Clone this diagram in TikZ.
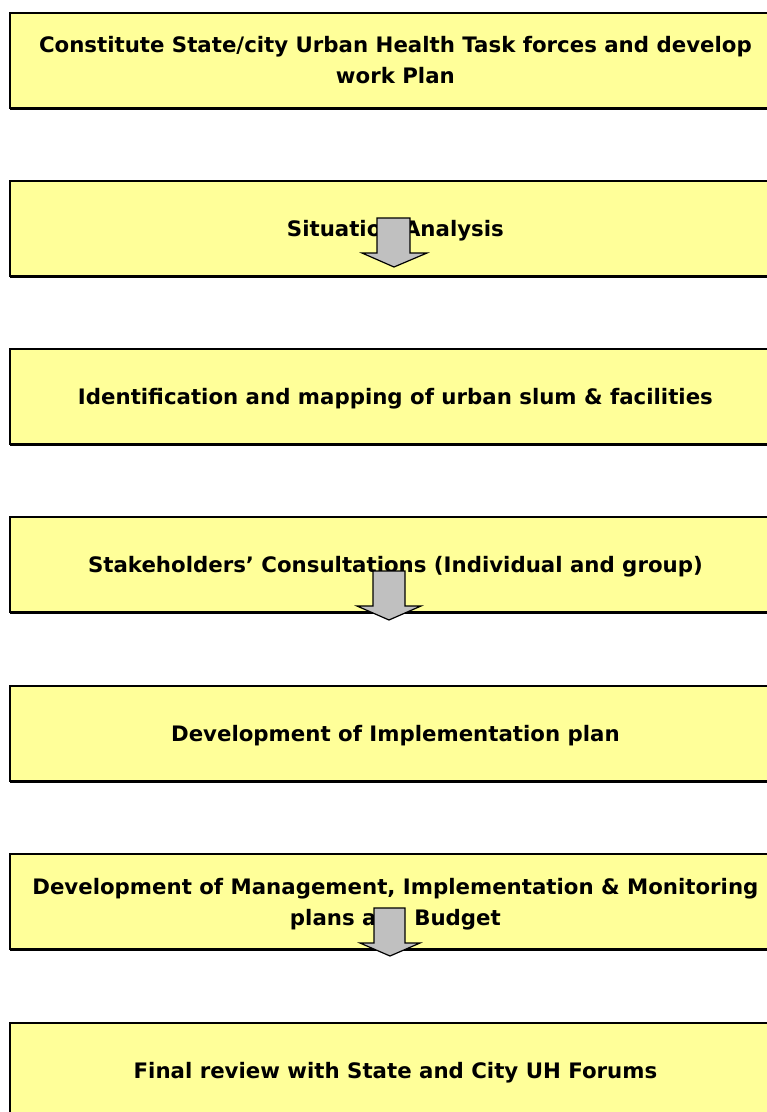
\documentclass[tikz,border=0pt]{standalone}
\usepackage{fontspec}
\setmainfont{DejaVu Sans}
\begin{document}
\begin{tikzpicture}[x=1pt,y=-1pt,
  box/.style={draw=black, line width=1.8pt, fill=boxyellow, rectangle,
    minimum width=771pt, minimum height=95pt, anchor=north west, inner sep=0pt,
    text depth=-5pt,
    align=center, font=\fontsize{21.3}{31}\selectfont\bfseries},
  blockarrow/.style={draw=black, line width=1.2pt, fill=arrowgray, line join=miter}]
\definecolor{boxyellow}{HTML}{FFFF99}
\definecolor{arrowgray}{HTML}{C0C0C0}
\useasboundingbox (0,0) rectangle (767,1112);
% shadows
\foreach \t in {12,180,348,516,685,853,1022}{
  \fill[black] (10,\t+3) rectangle (782,\t+97.5);
}
\node[box] (b1) at (9,12) {Constitute State/city Urban Health Task forces and develop\\work Plan};
\node[box] (b2) at (9,180) {Situation Analysis};
\node[box] (b3) at (9,348) {Identification and mapping of urban slum \& facilities};
\node[box] (b4) at (9,516) {Stakeholders’ Consultations (Individual and group)};
\node[box] (b5) at (9,685) {Development of Implementation plan};
\node[box] (b6) at (9,853) {Development of Management, Implementation \& Monitoring\\plans and Budget};
\node[box] (b7) at (9,1022) {Final review with State and City UH Forums};
% block arrows
\draw[blockarrow] (377,218) -- (410,218) -- (410,253) -- (427,253) -- (394,267)
  -- (362,253) -- (377,253) -- cycle;
\draw[blockarrow] (373,571) -- (405,571) -- (405,606) -- (421,606) -- (389,620)
  -- (357,606) -- (373,606) -- cycle;
\draw[blockarrow] (374,908) -- (405,908) -- (405,943) -- (420,943) -- (390,956)
  -- (360,943) -- (374,943) -- cycle;
\end{tikzpicture}
\end{document}
